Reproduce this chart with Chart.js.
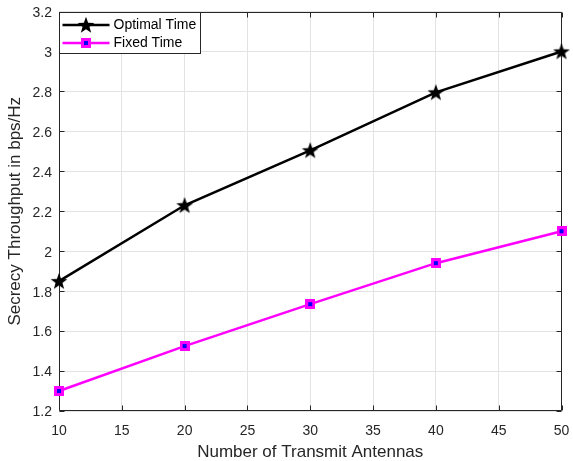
<!DOCTYPE html>
<html><head><meta charset="utf-8">
<script src="https://cdn.jsdelivr.net/npm/chart.js@4/dist/chart.umd.min.js"></script>
<style>html,body{margin:0;padding:0;background:#fff}#wrap{width:573px;height:461px}</style>
</head><body><div id="wrap"><canvas id="c" width="573" height="461"></canvas></div>
<script>
const antennas = [10, 20, 30, 40, 50];
const optimalTime = [1.85, 2.23, 2.505, 2.795, 3.0];
const fixedTime = [1.30, 1.525, 1.735, 1.94, 2.10];
const xTickValues = [10, 15, 20, 25, 30, 35, 40, 45, 50];
const yTickValues = [1.2, 1.4, 1.6, 1.8, 2.0, 2.2, 2.4, 2.6, 2.8, 3.0, 3.2];
const seriesNames = ['Optimal Time', 'Fixed Time'];
const xTitle = 'Number of Transmit Antennas';
const yTitle = 'Secrecy Throughput in bps/Hz';

const FONT = '"Liberation Sans", Arial, Helvetica, sans-serif';
const AX = '#262626';

function starImage() {
  const s = 20, c = document.createElement('canvas');
  c.width = s; c.height = s;
  const g = c.getContext('2d');
  const R = 8.8, r = 3.6, cx = s / 2, cy = s / 2 + 0.6;
  g.beginPath();
  for (let i = 0; i < 10; i++) {
    const rad = i % 2 === 0 ? R : r;
    const a = -Math.PI / 2 + i * Math.PI / 5;
    const px = cx + rad * Math.cos(a), py = cy + rad * Math.sin(a);
    i === 0 ? g.moveTo(px, py) : g.lineTo(px, py);
  }
  g.closePath();
  g.fillStyle = '#000';
  g.fill();
  return c;
}
function squareImage() {
  const s = 10, c = document.createElement('canvas');
  c.width = s; c.height = s;
  const g = c.getContext('2d');
  g.fillStyle = '#ff00ff';
  g.fillRect(0, 0, s, s);
  g.fillStyle = '#0000ff';
  g.fillRect(3, 3, 4, 4);
  return c;
}
const starImg = starImage();
const sqImg = squareImage();

const toXY = (xs, ys) => xs.map((x, i) => ({ x: x, y: ys[i] }));

const matlabBox = {
  id: 'matlabBox',
  beforeDatasetsDraw(chart) {
    const { ctx, chartArea: a, scales } = chart;
    ctx.save();
    ctx.strokeStyle = AX;
    ctx.lineWidth = 1;
    const L = Math.round(a.left) + 0.5, R = Math.round(a.right) - 0.5;
    const T = Math.round(a.top) + 0.5, B = Math.round(a.bottom) - 0.5;
    ctx.beginPath();
    ctx.rect(L, T, R - L, B - T);
    ctx.stroke();
    const tl = 5;
    ctx.beginPath();
    xTickValues.forEach(v => {
      const px = Math.round(scales.x.getPixelForValue(v)) + 0.5;
      ctx.moveTo(px, B); ctx.lineTo(px, B - tl);
      ctx.moveTo(px, T); ctx.lineTo(px, T + tl);
    });
    yTickValues.forEach(v => {
      const py = Math.round(scales.y.getPixelForValue(v)) + 0.5;
      ctx.moveTo(L, py); ctx.lineTo(L + tl, py);
      ctx.moveTo(R, py); ctx.lineTo(R - tl, py);
    });
    ctx.stroke();
    ctx.restore();
  }
};

const matlabLegend = {
  id: 'matlabLegend',
  afterDraw(chart) {
    const { ctx, chartArea: a } = chart;
    const x0 = Math.round(a.left) + 0.5, y0 = Math.round(a.top) + 0.5;
    const w = 141, h = 41;
    ctx.save();
    ctx.fillStyle = '#fff';
    ctx.fillRect(x0, y0, w, h);
    ctx.strokeStyle = AX;
    ctx.lineWidth = 1;
    ctx.strokeRect(x0, y0, w, h);
    ctx.font = '14px ' + FONT;
    ctx.textBaseline = 'middle';
    chart.data.datasets.forEach((ds, i) => {
      const yy = y0 + 12.5 + i * 18;
      ctx.strokeStyle = ds.borderColor;
      ctx.lineWidth = ds.borderWidth;
      ctx.beginPath();
      ctx.moveTo(x0 + 3, yy); ctx.lineTo(x0 + 50, yy);
      ctx.stroke();
      const img = ds.pointStyle;
      ctx.drawImage(img, x0 + 26.5 - img.width / 2, yy - img.height / 2);
      ctx.fillStyle = '#000';
      ctx.fillText(ds.label, x0 + 54, yy + 0.5);
    });
    ctx.restore();
  }
};

new Chart(document.getElementById('c'), {
  type: 'line',
  data: {
    datasets: [
      { label: seriesNames[0], data: toXY(antennas, optimalTime), borderColor: '#000000', backgroundColor: '#000000',
        borderWidth: 2.5, pointStyle: starImg, pointRadius: 9, clip: false, tension: 0 },
      { label: seriesNames[1], data: toXY(antennas, fixedTime), borderColor: '#ff00ff', backgroundColor: '#ff00ff',
        borderWidth: 2.5, pointStyle: sqImg, pointRadius: 5, clip: false, tension: 0 }
    ]
  },
  options: {
    responsive: false,
    devicePixelRatio: 1,
    animation: false,
    layout: { padding: { top: 11, right: 8.5, left: 0, bottom: 0 } },
    plugins: { legend: { display: false }, tooltip: { enabled: false } },
    scales: {
      x: {
        type: 'linear', min: 10, max: 50,
        afterBuildTicks: s => { s.ticks = xTickValues.map(v => ({ value: v })); },
        afterFit: s => { s.height = 50; s.paddingLeft = 0; s.paddingRight = 0; },
        ticks: { font: { family: FONT, size: 14 }, color: AX, padding: 12, maxRotation: 0 },
        grid: { color: '#e3e3e3', drawTicks: false },
        border: { display: false },
        title: { display: true, text: xTitle, font: { family: FONT, size: 17 }, color: AX, padding: { top: 0, bottom: -2 } }
      },
      y: {
        type: 'linear', min: 1.2, max: 3.2,
        afterBuildTicks: s => { s.ticks = yTickValues.map(v => ({ value: v })); },
        afterFit: s => { s.width = 59; s.paddingTop = 0; s.paddingBottom = 0; },
        ticks: { font: { family: FONT, size: 14 }, color: AX, padding: 7, labelOffset: 1.5,
          callback: v => String(Number(v.toFixed(1))) },
        grid: { color: '#e3e3e3', drawTicks: false },
        border: { display: false },
        title: { display: true, text: yTitle, font: { family: FONT, size: 17 }, color: AX, padding: { top: 5, bottom: 0 } }
      }
    }
  },
  plugins: [matlabBox, matlabLegend]
});
</script>
</body></html>
